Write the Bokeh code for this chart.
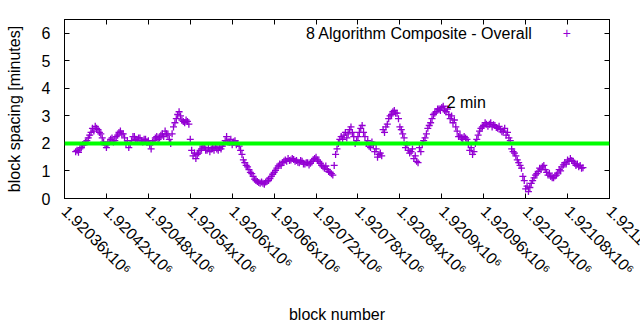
import math
from bokeh.plotting import figure
from bokeh.models import FixedTicker, LinearAxis, Span, Label, Range1d
from bokeh.embed import file_html
from bokeh.resources import INLINE

# ---- data ----
start_block = 1920376
block_step = 4
# points on blocks start_block + 4*i
spacing_a = [
    1.70, 1.68, 1.85, 1.95, 2.10, 2.30, 2.55, 2.62, 2.50, 2.35,
    2.05, 1.85, 2.05, 2.20, 2.10, 2.30, 2.45, 2.35, 2.00, 1.85,
    2.10, 2.25, 2.10, 2.20, 2.05, 2.15, 2.10, 1.80, 2.10, 2.25,
    2.20, 2.35, 2.45, 2.30, 2.00, 2.60, 2.90, 3.15, 2.85, 2.75,
    2.80, 2.15, 1.55, 1.45, 1.65, 1.80, 1.85, 1.75, 1.70, 1.85,
    1.90, 1.75, 1.80, 2.00, 2.25, 2.05, 1.95, 2.10, 2.00, 1.75,
    1.40, 1.20, 1.05, 0.90, 0.70, 0.62, 0.55, 0.55, 0.60, 0.65,
    0.80, 0.95, 1.10, 1.25, 1.30, 1.40, 1.45, 1.40, 1.42, 1.38,
    1.30, 1.35, 1.25, 1.30, 1.28, 1.40, 1.50, 1.35, 1.20, 1.10,
    1.05, 0.95, 0.85, 1.60, 2.00, 2.25, 2.30, 2.20, 2.50, 2.40,
    2.00, 2.25, 2.55, 2.40, 2.00, 1.90, 2.05, 1.70, 1.50, 1.65,
    2.50, 2.60, 2.90, 3.05, 3.20, 3.10, 2.60, 2.35, 1.85, 1.75,
    1.70, 1.45, 1.35, 1.85, 2.00, 2.20, 2.55, 2.75, 3.05, 3.15,
    3.25, 3.30, 3.20, 3.25, 2.90, 2.75, 2.60, 2.25, 2.20, 2.25,
    2.15, 1.75, 1.60, 2.00, 2.30, 2.55, 2.65, 2.70, 2.70, 2.60,
    2.65, 2.55, 2.50, 2.45, 2.30, 2.20, 1.80, 1.65, 1.40, 1.20,
    0.80, 0.35, 0.25, 0.55, 0.75, 0.90, 1.10, 1.15, 1.05, 0.85,
    0.80, 0.75, 0.85, 1.05, 1.15, 1.30, 1.40, 1.45, 1.35, 1.20,
    1.15, 1.10,
]
# points on blocks start_block + 2 + 4*i
spacing_b = [
    1.75, 1.80, 1.95, 2.05, 2.20, 2.40, 2.45, 2.55, 2.40, 2.20,
    1.95, 2.00, 2.15, 2.05, 2.25, 2.40, 2.35, 2.20, 2.10, 2.00,
    2.25, 2.15, 2.20, 2.10, 2.15, 2.05, 1.95, 2.05, 2.20, 2.15,
    2.30, 2.25, 2.35, 2.15, 2.35, 2.75, 3.05, 3.00, 2.80, 2.85,
    2.70, 1.75, 1.65, 1.60, 1.75, 1.90, 1.75, 1.85, 1.80, 1.75,
    1.80, 1.85, 1.90, 2.10, 2.05, 2.15, 2.05, 1.95, 1.90, 1.60,
    1.30, 1.15, 0.95, 0.80, 0.65, 0.58, 0.60, 0.52, 0.65, 0.72,
    0.88, 1.02, 1.18, 1.20, 1.35, 1.35, 1.38, 1.45, 1.35, 1.32,
    1.38, 1.25, 1.30, 1.22, 1.35, 1.45, 1.40, 1.28, 1.15, 1.18,
    0.98, 0.90, 1.20, 1.80, 2.15, 2.15, 2.40, 2.35, 2.60, 2.25,
    2.10, 2.40, 2.65, 2.25, 2.10, 1.85, 1.95, 1.80, 1.60, 1.55,
    2.40, 2.70, 3.00, 3.15, 3.10, 2.90, 2.50, 2.20, 1.95, 1.65,
    1.80, 1.55, 1.30, 1.70, 2.10, 2.35, 2.65, 2.90, 3.10, 3.25,
    3.20, 3.35, 3.15, 3.05, 3.00, 2.85, 2.45, 2.30, 2.15, 2.20,
    2.00, 1.85, 1.70, 2.15, 2.45, 2.60, 2.75, 2.62, 2.75, 2.68,
    2.58, 2.62, 2.42, 2.55, 2.40, 2.10, 1.70, 1.55, 1.30, 1.10,
    0.65, 0.45, 0.40, 0.65, 0.85, 0.98, 1.05, 1.20, 0.95, 0.92,
    0.75, 0.82, 0.92, 1.00, 1.22, 1.25, 1.35, 1.38, 1.28, 1.25,
    1.20, 1.12,
]
blocks_a = [start_block + block_step * i for i in range(len(spacing_a))]
blocks_b = [start_block + 2 + block_step * i for i in range(len(spacing_b))]
blocks = blocks_a + blocks_b
spacing = spacing_a + spacing_b

x_ticks = [1920360, 1920420, 1920480, 1920540, 1920600, 1920660, 1920720,
           1920780, 1920840, 1920900, 1920960, 1921020, 1921080, 1921140]
x_tick_labels = ["1.92036x10⁶", "1.92042x10⁶", "1.92048x10⁶", "1.92054x10⁶",
                 "1.9206x10⁶", "1.92066x10⁶", "1.92072x10⁶", "1.92078x10⁶",
                 "1.92084x10⁶", "1.9209x10⁶", "1.92096x10⁶", "1.92102x10⁶",
                 "1.92108x10⁶", "1.92114x10⁶"]
y_ticks = [0, 1, 2, 3, 4, 5, 6]
target_minutes = 2
series_name = "8 Algorithm Composite - Overall"
target_text = "2 min"

FONT = "Liberation Sans"
FS = "16px"
PURPLE = "#9400d3"
ANGLE = -math.pi / 4

p = figure(width=640, height=330, output_backend="svg", toolbar_location=None,
           x_range=Range1d(x_ticks[0], x_ticks[-1]), y_range=Range1d(0, 6.5),
           min_border_left=64, min_border_right=31, min_border_top=19,
           min_border_bottom=132)
p.background_fill_color = "white"
p.border_fill_color = "white"
p.outline_line_color = "black"
p.outline_line_alpha = 1
p.outline_line_width = 1
p.xgrid.visible = False
p.ygrid.visible = False

p.scatter(blocks, spacing, marker="cross", size=7, line_width=1.3, color=PURPLE)

p.add_layout(Span(location=target_minutes, dimension="width",
                  line_color="#00ff00", line_width=4))

# axes
# (the rightmost tick is listed second so Bokeh does not pull its label back
#  inside the canvas: like the original, it runs off the right edge)
tick_order = x_ticks[:1] + x_ticks[-1:] + x_ticks[1:-1]
xax = p.xaxis[0]
xax.ticker = FixedTicker(ticks=tick_order)
xax.major_label_overrides = {t: l for t, l in zip(x_ticks, x_tick_labels)}
xax.major_label_orientation = ANGLE
xax.axis_label = "block number"

yax = p.yaxis[0]
yax.ticker = FixedTicker(ticks=y_ticks)
yax.axis_label = "block spacing [minutes]"

for ax in (xax, yax):
    ax.major_tick_in = 5
    ax.major_tick_out = 0
    ax.minor_tick_line_color = None
    ax.axis_line_color = "black"
    ax.major_tick_line_color = "black"
    ax.major_label_text_font = FONT
    ax.major_label_text_font_size = FS
    ax.major_label_text_color = "black"
    ax.axis_label_text_font = FONT
    ax.axis_label_text_font_size = FS
    ax.axis_label_text_font_style = "normal"
    ax.axis_label_text_color = "black"
xax.major_label_standoff = 10
xax.axis_label_standoff = 19
yax.major_label_standoff = 14
yax.axis_label_standoff = 16

# mirrored ticks on top and right
top = LinearAxis(ticker=FixedTicker(ticks=x_ticks), major_tick_in=5, major_tick_out=0,
                 minor_tick_line_color=None, major_label_text_color=None,
                 axis_line_color="black")
right = LinearAxis(ticker=FixedTicker(ticks=y_ticks), major_tick_in=5, major_tick_out=0,
                   minor_tick_line_color=None, major_label_text_color=None,
                   axis_line_color="black")
p.add_layout(top, "above")
p.add_layout(right, "right")

# legend (gnuplot style: text then sample)
p.add_layout(Label(x=1921030, y=6.0, text=series_name, text_align="right",
                   text_baseline="middle", text_font=FONT, text_font_size=FS,
                   text_color="black"))
p.add_layout(Label(x=1921079, y=6.0, text="+", text_align="center",
                   text_baseline="middle", text_font=FONT, text_font_size="14px",
                   text_color=PURPLE))
p.add_layout(Label(x=1920907, y=3.48, text=target_text, text_align="left",
                   text_baseline="middle", text_font=FONT, text_font_size=FS,
                   text_color="black"))

open("out.html", "w").write(file_html(p, INLINE))
